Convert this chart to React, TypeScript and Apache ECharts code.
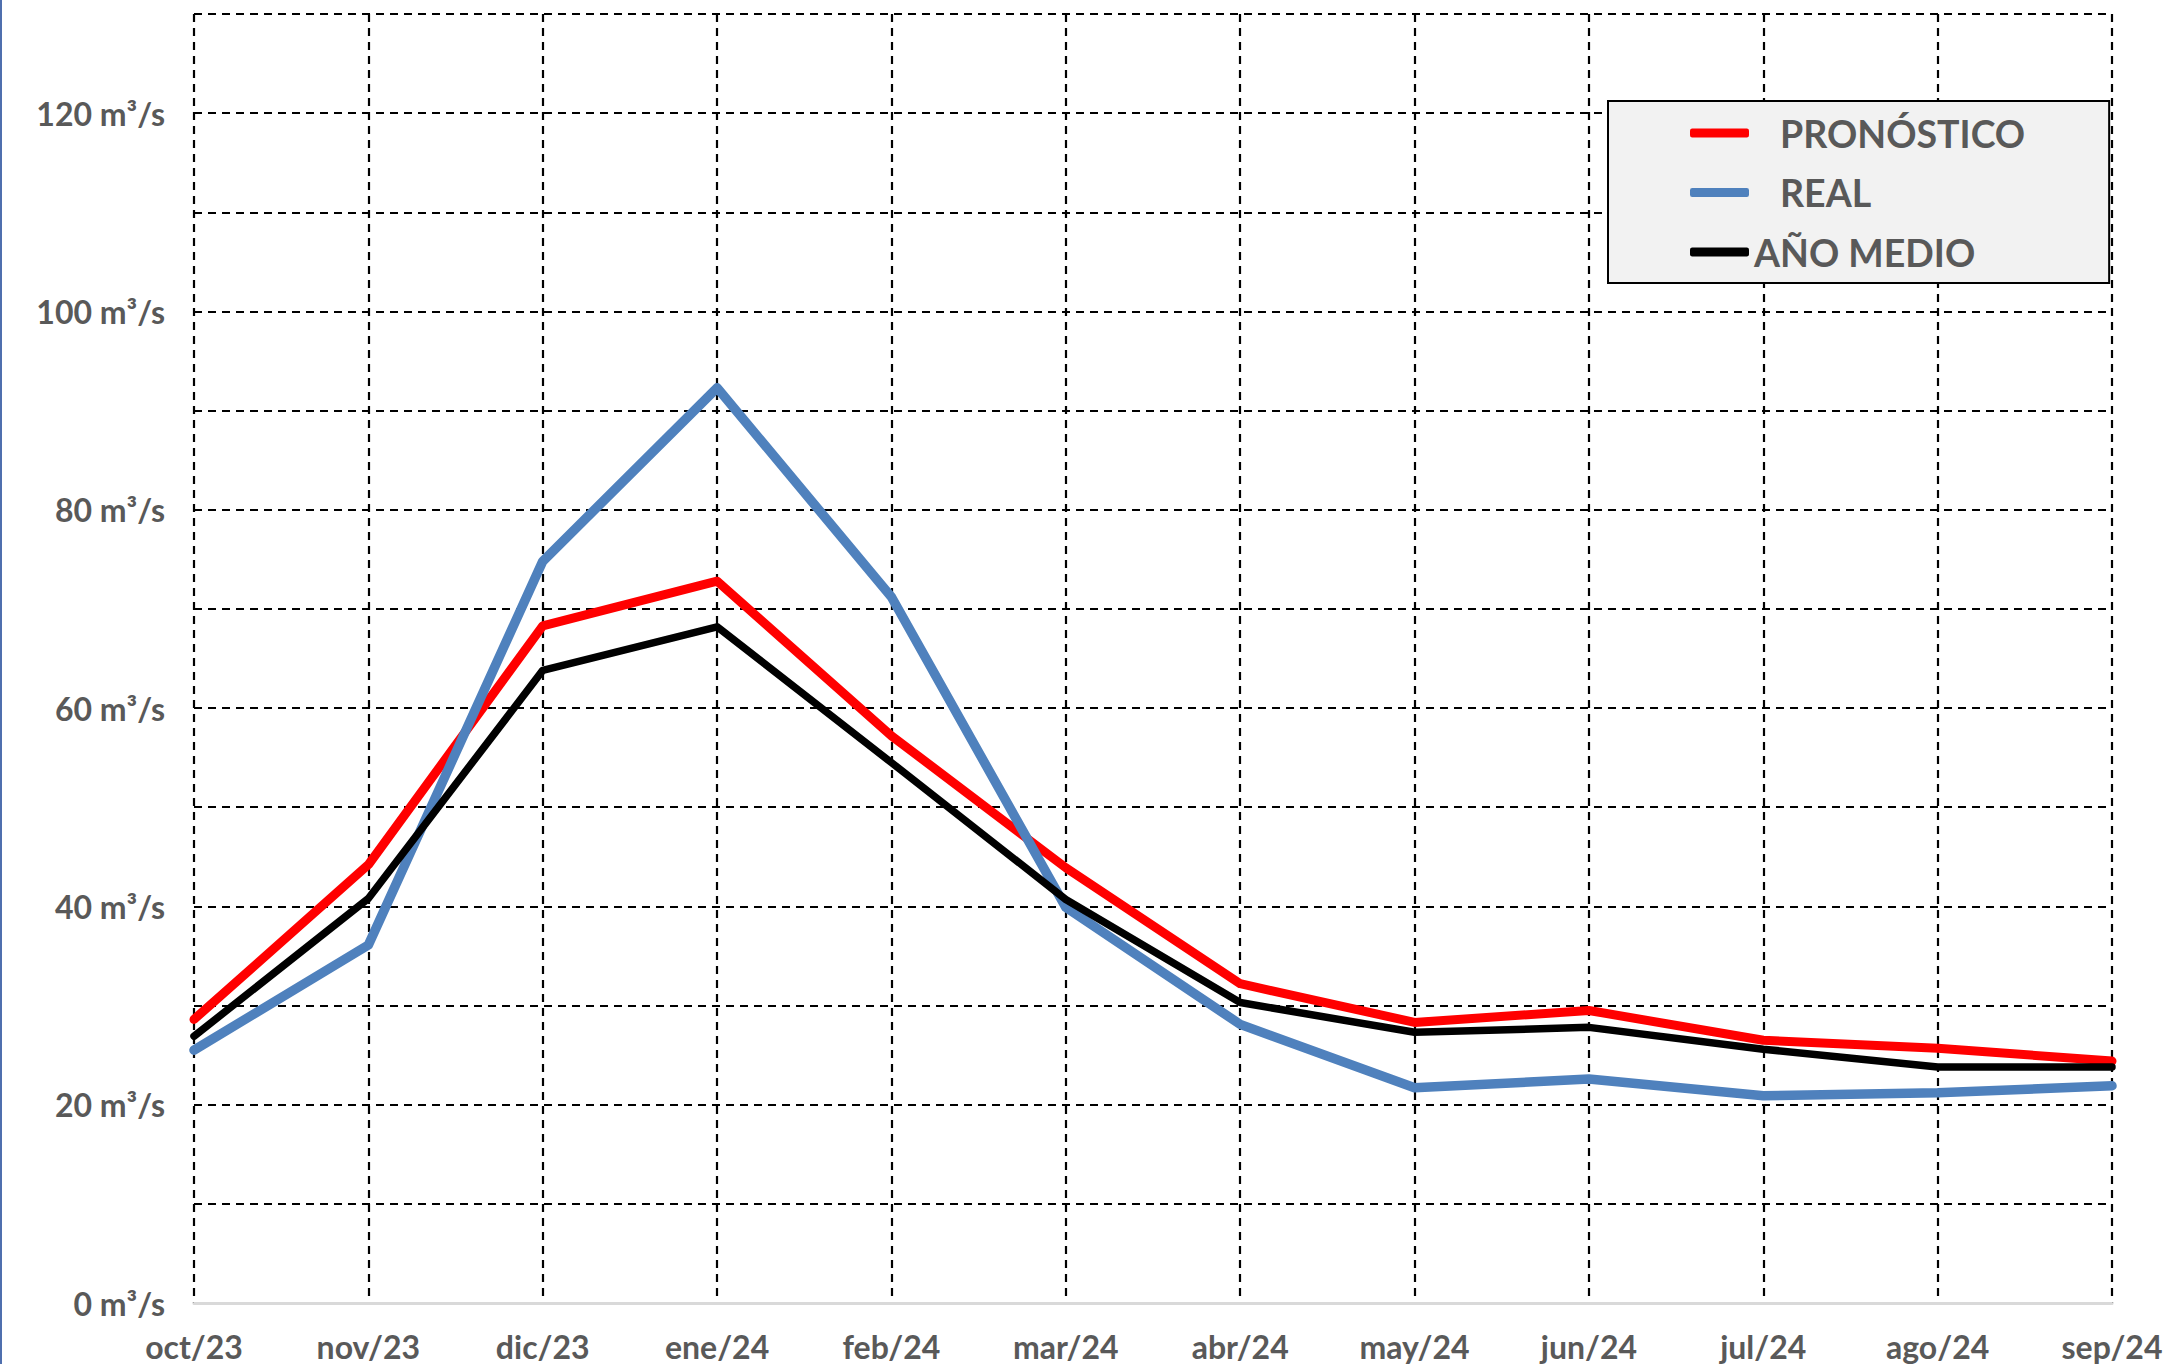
import React, { useEffect, useRef } from "react";
import * as echarts from "echarts";

const months = ["oct/23", "nov/23", "dic/23", "ene/24", "feb/24", "mar/24", "abr/24", "may/24", "jun/24", "jul/24", "ago/24", "sep/24"];
const pronostico = [28.6, 44.2, 68.3, 72.8, 57.2, 43.9, 32.2, 28.3, 29.5, 26.5, 25.7, 24.4];
const real = [25.5, 36.1, 74.8, 92.3, 71.2, 39.9, 28.1, 21.7, 22.6, 20.9, 21.2, 21.9];
const anoMedio = [26.9, 40.8, 63.8, 68.2, 54.5, 40.7, 30.3, 27.3, 27.8, 25.6, 23.8, 23.8];
const seriesNames = ["PRONÓSTICO", "REAL", "AÑO MEDIO"];
const unit = " m³/s";

export default function App() {
  const ref = useRef<HTMLDivElement>(null);
  useEffect(() => {
    if (!ref.current) return;
    const chart = echarts.init(ref.current, null, { renderer: "svg" });
    const font = "Lato, 'Noto Sans', sans-serif";
    const dashed = { color: "#000", width: 2.2, type: [8, 6] as any };
    chart.setOption({
      animation: false,
      backgroundColor: "#fff",
      grid: { left: 194, right: 56, top: 14, bottom: 61 },
      legend: {
        orient: "vertical",
        left: 1608,
        top: 101,
        padding: [10, 84, 9, 82],
        itemGap: 15.5,
        itemWidth: 59,
        itemHeight: 9,
        icon: "roundRect",
        backgroundColor: "#f2f2f2",
        borderColor: "#000",
        borderWidth: 2,
        borderRadius: 0,
        textStyle: { fontFamily: font, fontSize: 37.5, fontWeight: "bold", color: "#595959", lineHeight: 44 },
        data: [
          { name: seriesNames[0], textStyle: { padding: [0, 0, 0, 26] } },
          { name: seriesNames[1], textStyle: { padding: [0, 0, 0, 26] } },
          { name: seriesNames[2], textStyle: { padding: [0, 0, 0, 0] } },
        ],
      },
      xAxis: {
        type: "category",
        data: months,
        boundaryGap: false,
        axisLine: { show: true, lineStyle: { color: "#d9d9d9", width: 3 } },
        axisTick: { show: false },
        axisLabel: { fontFamily: font, fontSize: 32, fontWeight: "bold", color: "#595959", margin: 27, interval: 0 },
        splitLine: { show: true, lineStyle: dashed },
        z: 3,
      },
      yAxis: {
        type: "value",
        min: 0,
        max: 130,
        interval: 10,
        axisLine: { show: false },
        axisTick: { show: false },
        axisLabel: {
          fontFamily: font,
          fontSize: 32,
          fontWeight: "bold",
          color: "#595959",
          margin: 29,
          formatter: (v: number) => (v % 20 === 0 ? `${v}${unit}` : ""),
        },
        splitLine: { show: true, lineStyle: dashed },
      },
      graphic: [
        { type: "rect", left: 0, top: 0, shape: { width: 2, height: 1364 }, style: { fill: "#4f6fae" } },
      ],
      series: [
        {
          name: seriesNames[0],
          type: "line",
          data: pronostico,
          symbol: "none",
          color: "#ff0000",
          lineStyle: { color: "#ff0000", width: 9, cap: "round", join: "round" },
          z: 4,
        },
        {
          name: seriesNames[1],
          type: "line",
          data: real,
          symbol: "none",
          color: "#4f81bd",
          lineStyle: { color: "#4f81bd", width: 9.5, cap: "round", join: "round" },
          z: 5,
        },
        {
          name: seriesNames[2],
          type: "line",
          data: anoMedio,
          symbol: "none",
          color: "#000000",
          lineStyle: { color: "#000000", width: 7.5, cap: "round", join: "round" },
          z: 6,
        },
      ],
    });
    return () => chart.dispose();
  }, []);
  return <div ref={ref} style={{ position: "fixed", left: 0, top: 0, width: 2168, height: 1364 }} />;
}
